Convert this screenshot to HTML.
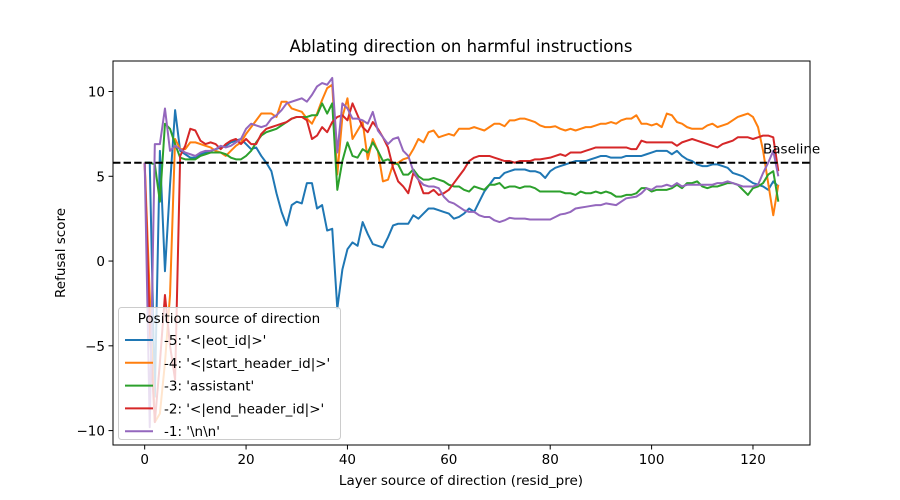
<!DOCTYPE html>
<html><head><meta charset="utf-8"><style>
html,body{margin:0;padding:0;background:#fff;}
svg{display:block;font-family:"DejaVu Sans","Liberation Sans",sans-serif;}
</style></head><body>
<svg id="chart" width="900" height="500" viewBox="0 0 900 500">
<rect x="0" y="0" width="900" height="500" fill="#fff"/>
<text x="461" y="52" text-anchor="middle" font-size="16.5">Ablating direction on harmful instructions</text>
<g id="plot"></g>
<text x="461" y="485" text-anchor="middle" font-size="13.5">Layer source of direction (resid_pre)</text>
<text transform="translate(65,253) rotate(-90)" text-anchor="middle" font-size="13.5">Refusal score</text>
</svg>
<script>
const layers = Array.from({length:126},(_, i)=>i);
const xTicks = [0,20,40,60,80,100,120];
const yTicks = [-10,-5,0,5,10];
const baselineValue = 5.8;
const seriesLabels = ["-5: '<|eot_id|>'","-4: '<|start_header_id|>'","-3: 'assistant'","-2: '<|end_header_id|>'","-1: '\\n\\n'"];
const seriesColors = ["#1f77b4","#ff7f0e","#2ca02c","#d62728","#9467bd"];
const blue = [5.8,5.8,-8,6.5,-0.6,4.5,8.9,6.5,6.3,6.1,6.1,6.3,6.4,6.5,6.6,6.7,6.8,7.0,7.1,7.2,6.9,6.6,6.7,6.2,5.8,5.3,4.0,2.9,2.1,3.3,3.5,3.4,4.6,4.6,3.1,3.3,1.8,1.9,-2.8,-0.5,0.7,1.1,0.9,2.3,1.6,1.0,0.9,0.8,1.4,2.1,2.2,2.2,2.2,2.7,2.5,2.8,3.1,3.1,3.0,2.9,2.8,2.5,2.6,2.8,3.1,2.9,3.5,4.1,4.5,4.9,4.9,5.2,5.3,5.4,5.4,5.4,5.3,5.3,5.2,4.9,5.3,5.5,5.6,5.7,5.8,5.9,5.9,5.9,6.0,6.1,6.2,6.2,6.1,6.1,6.1,6.2,6.2,6.2,6.2,6.3,6.4,6.5,6.5,6.5,6.3,6.5,6.2,6.0,5.9,5.7,5.6,5.6,5.7,5.7,5.6,5.5,5.2,5.1,5.0,4.8,4.6,4.5,4.4,4.2,4.7,4.4];
const orange = [5.8,-2,-9.5,-9,-6,-2,7.2,6.6,6.6,7.0,7.0,6.9,6.8,6.7,6.5,6.4,6.2,6.5,6.8,7.0,7.5,7.9,8.3,8.7,8.7,8.7,8.5,9.4,9.4,9.0,8.9,8.8,8.4,8.1,8.7,9.5,10.2,10.4,5.1,8.5,9.6,7.2,7.7,8.2,6.0,7.2,6.5,4.7,4.8,5.7,5.8,6.0,6.1,6.6,7.2,7.0,7.6,7.7,7.3,7.4,7.5,7.4,7.8,7.8,7.8,7.9,7.8,7.7,7.9,8.1,8.1,7.95,8.3,8.3,8.4,8.4,8.3,8.2,8.0,7.9,7.9,7.95,7.8,7.7,7.8,7.7,7.8,7.9,7.9,8.0,8.1,8.1,8.2,8.1,8.3,8.4,8.4,8.6,8.1,8.1,8.0,8.1,7.9,8.7,8.6,8.2,8.1,7.9,7.8,7.8,7.8,8.0,8.1,7.9,8.0,8.1,8.3,8.5,8.6,8.7,8.5,7.9,6.5,4.6,2.7,4.5];
const green = [5.8,5.8,5.7,3.5,8.1,7.8,6.9,6.1,6.0,6.0,6.0,6.2,6.3,6.4,6.4,6.4,6.3,6.1,6.0,6.0,6.2,6.5,7.0,7.4,7.6,7.7,7.8,8.0,8.2,8.4,8.5,8.5,8.5,8.6,8.6,9.3,8.7,9.3,4.2,5.9,7.0,6.2,6.1,6.6,6.4,7.0,6.5,5.9,6.0,5.8,5.7,5.1,5.1,5.4,5.0,4.8,4.8,4.9,4.8,4.7,4.5,4.4,4.4,4.2,4.1,4.4,4.3,4.2,4.5,4.5,4.6,4.3,4.4,4.4,4.3,4.4,4.4,4.3,4.1,4.1,4.1,4.1,4.1,4.0,4.0,3.9,4.1,4.0,4.0,4.1,4.0,4.1,4.0,3.8,3.8,3.9,3.9,4.0,4.3,4.3,4.1,4.2,4.2,4.2,4.3,4.5,4.3,4.6,4.6,4.7,4.4,4.3,4.4,4.4,4.5,4.6,4.6,4.5,4.2,3.9,4.3,4.4,4.6,5.1,5.3,3.5];
const red = [5.8,-4,-9.5,-6,-2,-5,-7,6.2,6.8,7.8,7.7,7.1,6.9,7.0,6.9,6.6,6.9,7.1,7.2,6.9,7.2,6.9,6.9,7.5,7.8,7.9,8.0,8.1,8.2,8.4,8.5,8.5,8.3,7.2,7.4,7.9,7.6,8.2,8.5,8.6,8.3,9.3,8.6,7.9,7.6,8.2,7.8,7.3,6.7,5.5,4.7,4.4,4.0,5.2,4.8,4.0,4.0,4.2,3.9,4.0,4.2,4.6,5.0,5.4,5.9,6.1,6.2,6.2,6.2,6.1,6.0,5.9,5.9,5.8,5.9,5.9,5.9,6.0,6.0,6.05,6.1,6.2,6.3,6.2,6.4,6.4,6.4,6.5,6.6,6.7,6.7,6.7,6.7,6.7,6.7,6.7,6.6,6.6,7.1,7.0,7.0,7.0,7.0,7.0,7.0,6.8,7.0,7.1,7.2,7.1,7.0,6.9,6.8,6.7,6.9,7.0,7.1,7.3,7.3,7.3,7.2,7.3,7.4,7.4,7.3,5.3];
const purple = [5.8,-9.8,6.9,6.9,9.0,6.5,6.8,6.6,6.4,6.3,6.2,6.4,6.5,6.5,6.6,6.8,6.7,6.8,7.0,7.2,7.8,8.1,8.0,7.9,8.0,8.4,8.6,8.9,9.3,9.4,9.5,9.6,9.4,9.8,10.3,10.5,10.4,10.8,6.4,9.3,9.0,8.4,8.4,8.3,8.1,8.8,7.7,7.3,6.9,7.2,7.3,6.5,6.2,5.3,4.8,4.5,4.4,4.4,4.3,3.8,3.5,3.4,3.2,3.0,2.9,2.9,2.7,2.6,2.6,2.4,2.3,2.4,2.55,2.5,2.5,2.5,2.45,2.45,2.45,2.45,2.45,2.6,2.75,2.8,2.9,3.1,3.15,3.2,3.25,3.3,3.3,3.4,3.35,3.3,3.5,3.7,3.75,3.8,4.0,4.3,4.2,4.4,4.4,4.5,4.4,4.6,4.4,4.5,4.5,4.5,4.5,4.5,4.5,4.6,4.6,4.7,4.6,4.5,4.4,4.4,4.4,4.5,5.2,5.8,6.5,5.0];
const allSeries = [blue, orange, green, red, purple];
const seriesNames = ["series-eot-id","series-start-header-id","series-assistant","series-end-header-id","series-newlines"];

const L=113,R=810,T=61,B=445;
const X0=-6.25,X1=131.25,Y0=-10.85,Y1=11.8;
function xs(v){return L+(v-X0)/(X1-X0)*(R-L);}
function ys(v){return B-(v-Y0)/(Y1-Y0)*(B-T);}
const NS="http://www.w3.org/2000/svg";
const g=document.getElementById('plot');
function mk(tag,attrs,parent){const e=document.createElementNS(NS,tag);for(const k in attrs)e.setAttribute(k,attrs[k]);(parent||g).appendChild(e);return e;}

// series lines
allSeries.forEach((s,si)=>{
  const d=s.map((v,i)=>(i?'L':'M')+xs(layers[i]).toFixed(2)+','+ys(v).toFixed(2)).join('');
  const p=mk('path',{d:d,fill:'none',stroke:seriesColors[si],'stroke-width':2,'stroke-linejoin':'round'});
  
  
});
// baseline
const bl=mk('line',{x1:L,x2:R,y1:ys(baselineValue),y2:ys(baselineValue),stroke:'#000','stroke-width':2,'stroke-dasharray':'7.4,3.2'});


const bt=mk('text',{x:763,y:ys(baselineValue)-9,'font-size':13.5});
bt.textContent='Baseline';


// frame
const fr=mk('rect',{x:L,y:T,width:R-L,height:B-T,fill:'none',stroke:'#000','stroke-width':1});


// x ticks
xTicks.forEach(t=>{
  const x=xs(t);
  const tl=mk('line',{x1:x,x2:x,y1:B,y2:B+4.5,stroke:'#000','stroke-width':1});
  
  
  const tx=mk('text',{x:x,y:B+19,'text-anchor':'middle','font-size':13.5});
  tx.textContent=t;
  
  
});
yTicks.forEach(t=>{
  const y=ys(t);
  const tl=mk('line',{x1:L-4.5,x2:L,y1:y,y2:y,stroke:'#000','stroke-width':1});
  
  
  const tx=mk('text',{x:L-8,y:y+5,'text-anchor':'end','font-size':13.5});
  tx.textContent=(t<0?'\u2212'+Math.abs(t):t);
  
  
});
// legend
const lg=mk('g',{});


mk('rect',{x:118.5,y:307.5,width:222,height:132,rx:3,fill:'#fff','fill-opacity':0.8,stroke:'#ccc','stroke-width':1},lg);
const lt=mk('text',{x:229,y:323,'text-anchor':'middle','font-size':13.5},lg);
lt.textContent='Position source of direction';


seriesLabels.forEach((lab,i)=>{
  const y=340+i*22.8;
  const ln=mk('line',{x1:125,x2:153,y1:y,y2:y,stroke:seriesColors[i],'stroke-width':2},lg);
  
  
  const tx=mk('text',{x:164,y:y+5,'font-size':13.5},lg);
  tx.textContent=lab;
  
  
});
</script>
</body></html>
